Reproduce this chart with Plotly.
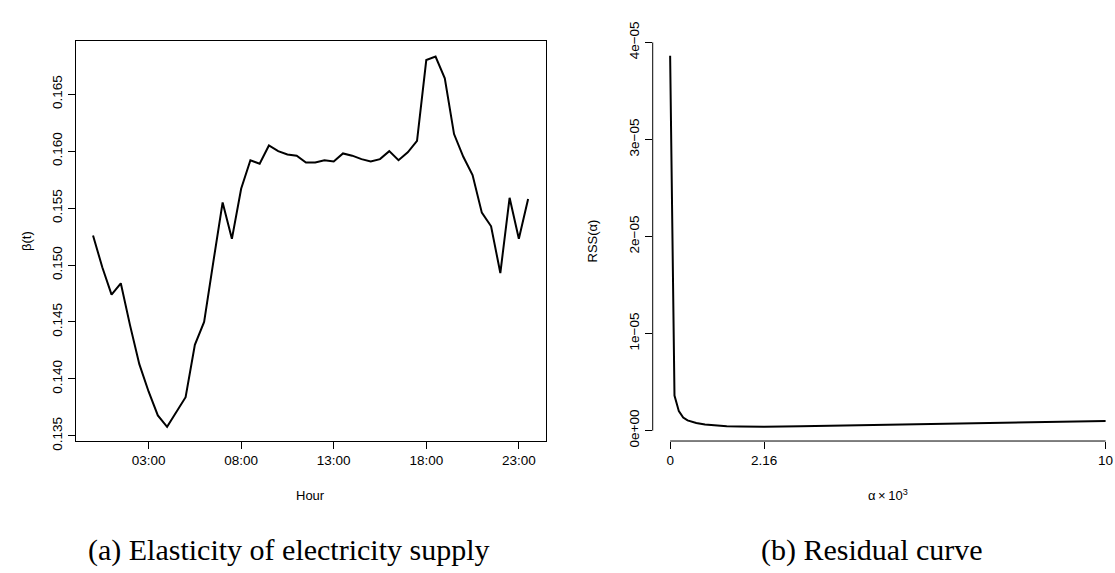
import plotly.graph_objects as go

# ---------------- data ----------------
hours = [0, 0.5, 1, 1.5, 2, 2.5, 3, 3.5, 4, 4.5, 5, 5.5, 6, 6.5, 7, 7.5,
         8, 8.5, 9, 9.5, 10, 10.5, 11, 11.5, 12, 12.5, 13, 13.5, 14, 14.5, 15, 15.5,
         16, 16.5, 17, 17.5, 18, 18.5, 19, 19.5, 20, 20.5, 21, 21.5, 22, 22.5, 23, 23.5]
beta = [0.1526, 0.1498, 0.1474, 0.1484, 0.1447, 0.1413, 0.1389, 0.1368,
        0.1358, 0.1371, 0.1384, 0.1430, 0.1450, 0.1503, 0.1555, 0.1523,
        0.1567, 0.1592, 0.1589, 0.1605, 0.1600, 0.1597, 0.1596, 0.1590,
        0.1590, 0.1592, 0.1591, 0.1598, 0.1596, 0.1593, 0.1591, 0.1593,
        0.1600, 0.1592, 0.1599, 0.1609, 0.1680, 0.1683, 0.1664, 0.1615,
        0.1595, 0.1579, 0.1546, 0.1534, 0.1493, 0.1559, 0.1523, 0.1558]

hour_tick_vals = [3, 8, 13, 18, 23]
hour_tick_text = ["03:00", "08:00", "13:00", "18:00", "23:00"]
beta_tick_vals = [0.135, 0.140, 0.145, 0.150, 0.155, 0.160, 0.165]
beta_tick_text = ["0.135", "0.140", "0.145", "0.150", "0.155", "0.160", "0.165"]

alpha = [0, 0.1, 0.2, 0.3, 0.4, 0.6, 0.8, 1.0, 1.3, 1.6, 2.16,
         3, 4, 5, 6, 7, 8, 9, 10]
rss = [3.863e-5, 3.6e-6, 2.0e-6, 1.35e-6, 1.05e-6, 0.78e-6, 0.62e-6, 0.53e-6,
       0.45e-6, 0.41e-6, 0.39e-6, 0.45e-6, 0.52e-6, 0.60e-6, 0.67e-6,
       0.75e-6, 0.83e-6, 0.90e-6, 0.98e-6]

alpha_tick_vals = [0, 2.16, 10]
alpha_tick_text = ["0", "2.16", "10"]
rss_tick_vals = [0, 1e-5, 2e-5, 3e-5, 4e-5]
rss_tick_text = ["0e+00", "1e\u221205", "2e\u221205", "3e\u221205", "4e\u221205"]

# ---------------- layout helpers ----------------
W, H = 1115, 573
def fx(p):
    return p / W
def fy(p):
    return 1 - p / H

SANS = "Liberation Sans, Arial, sans-serif"
SERIF = "Liberation Serif, Times New Roman, serif"
tickfont = dict(family=SANS, size=13.5, color="black")

fig = go.Figure()
fig.add_trace(go.Scatter(x=hours, y=beta, mode="lines",
                         line=dict(color="black", width=2),
                         xaxis="x", yaxis="y", showlegend=False, hoverinfo="skip"))
fig.add_trace(go.Scatter(x=alpha, y=rss, mode="lines",
                         line=dict(color="black", width=2),
                         xaxis="x2", yaxis="y2", showlegend=False, hoverinfo="skip"))

ydom = [fy(443.7), fy(23)]
common = dict(showgrid=False, zeroline=False, ticks="outside", ticklen=7,
              tickwidth=1, tickcolor="black", tickfont=tickfont,
              ticklabeloverflow="allow")

fig.update_layout(
    width=W, height=H, autosize=False,
    margin=dict(l=0, r=0, t=0, b=0),
    paper_bgcolor="white", plot_bgcolor="white",
    xaxis=dict(domain=[fx(75.7), fx(546)], range=[-0.94, 24.44],
               tickmode="array", tickvals=hour_tick_vals, ticktext=hour_tick_text,
               showline=True, mirror=True, linecolor="black", linewidth=1,
               anchor="y", **common),
    yaxis=dict(domain=ydom, range=[0.13455, 0.16968],
               tickmode="array", tickvals=beta_tick_vals, ticktext=beta_tick_text,
               tickangle=-90,
               showline=True, mirror=True, linecolor="black", linewidth=1,
               anchor="x", **common),
    xaxis2=dict(domain=[fx(653.3), fx(1113)], range=[-0.4, 10.147],
                tickmode="array", tickvals=alpha_tick_vals, ticktext=alpha_tick_text,
                showline=False, anchor="y2", **common),
    yaxis2=dict(domain=ydom, range=[-1.077e-6, 4.016e-5],
                tickmode="array", tickvals=rss_tick_vals, ticktext=rss_tick_text,
                tickangle=-90, showline=False, anchor="x2", **common),
)

# axis lines of the right panel span only first..last tick (R style)
fig.add_shape(type="line", xref="x2", yref="y2 domain",
              x0=alpha_tick_vals[0], x1=alpha_tick_vals[-1], y0=0, y1=0,
              line=dict(color="black", width=1))
fig.add_shape(type="line", xref="x2 domain", yref="y2",
              x0=0, x1=0, y0=rss_tick_vals[0], y1=rss_tick_vals[-1],
              line=dict(color="black", width=1))

ann = []
ann.append(dict(text="\u03b2(t)", x=fx(27), y=fy(233.4), textangle=-90,
                font=dict(family=SANS, size=13, color="black")))
ann.append(dict(text="RSS(\u03b1)", x=fx(594), y=fy(233.4), textangle=-90,
                font=dict(family=SANS, size=13, color="black")))
ann.append(dict(text="Hour", x=fx(310.9), y=fy(501),
                font=dict(family=SANS, size=13, color="black")))
ann.append(dict(text="\u03b1\u2009\u00d7\u200910<sup>3</sup>", x=fx(888.6), y=fy(500),
                font=dict(family=SANS, size=13, color="black")))
ann.append(dict(text="(a) Elasticity of electricity supply", x=fx(289.2), y=fy(558),
                font=dict(family=SERIF, size=30, color="black")))
ann.append(dict(text="(b) Residual curve", x=fx(872.5), y=fy(558),
                font=dict(family=SERIF, size=30, color="black")))
for a in ann:
    a.update(xref="paper", yref="paper", showarrow=False,
             xanchor="center", yanchor="middle")
fig.update_layout(annotations=ann)

fig.write_html("out.html", config={"displayModeBar": False},
               post_script="document.body.style.margin='0';"
                           "document.body.style.overflow='hidden';")
